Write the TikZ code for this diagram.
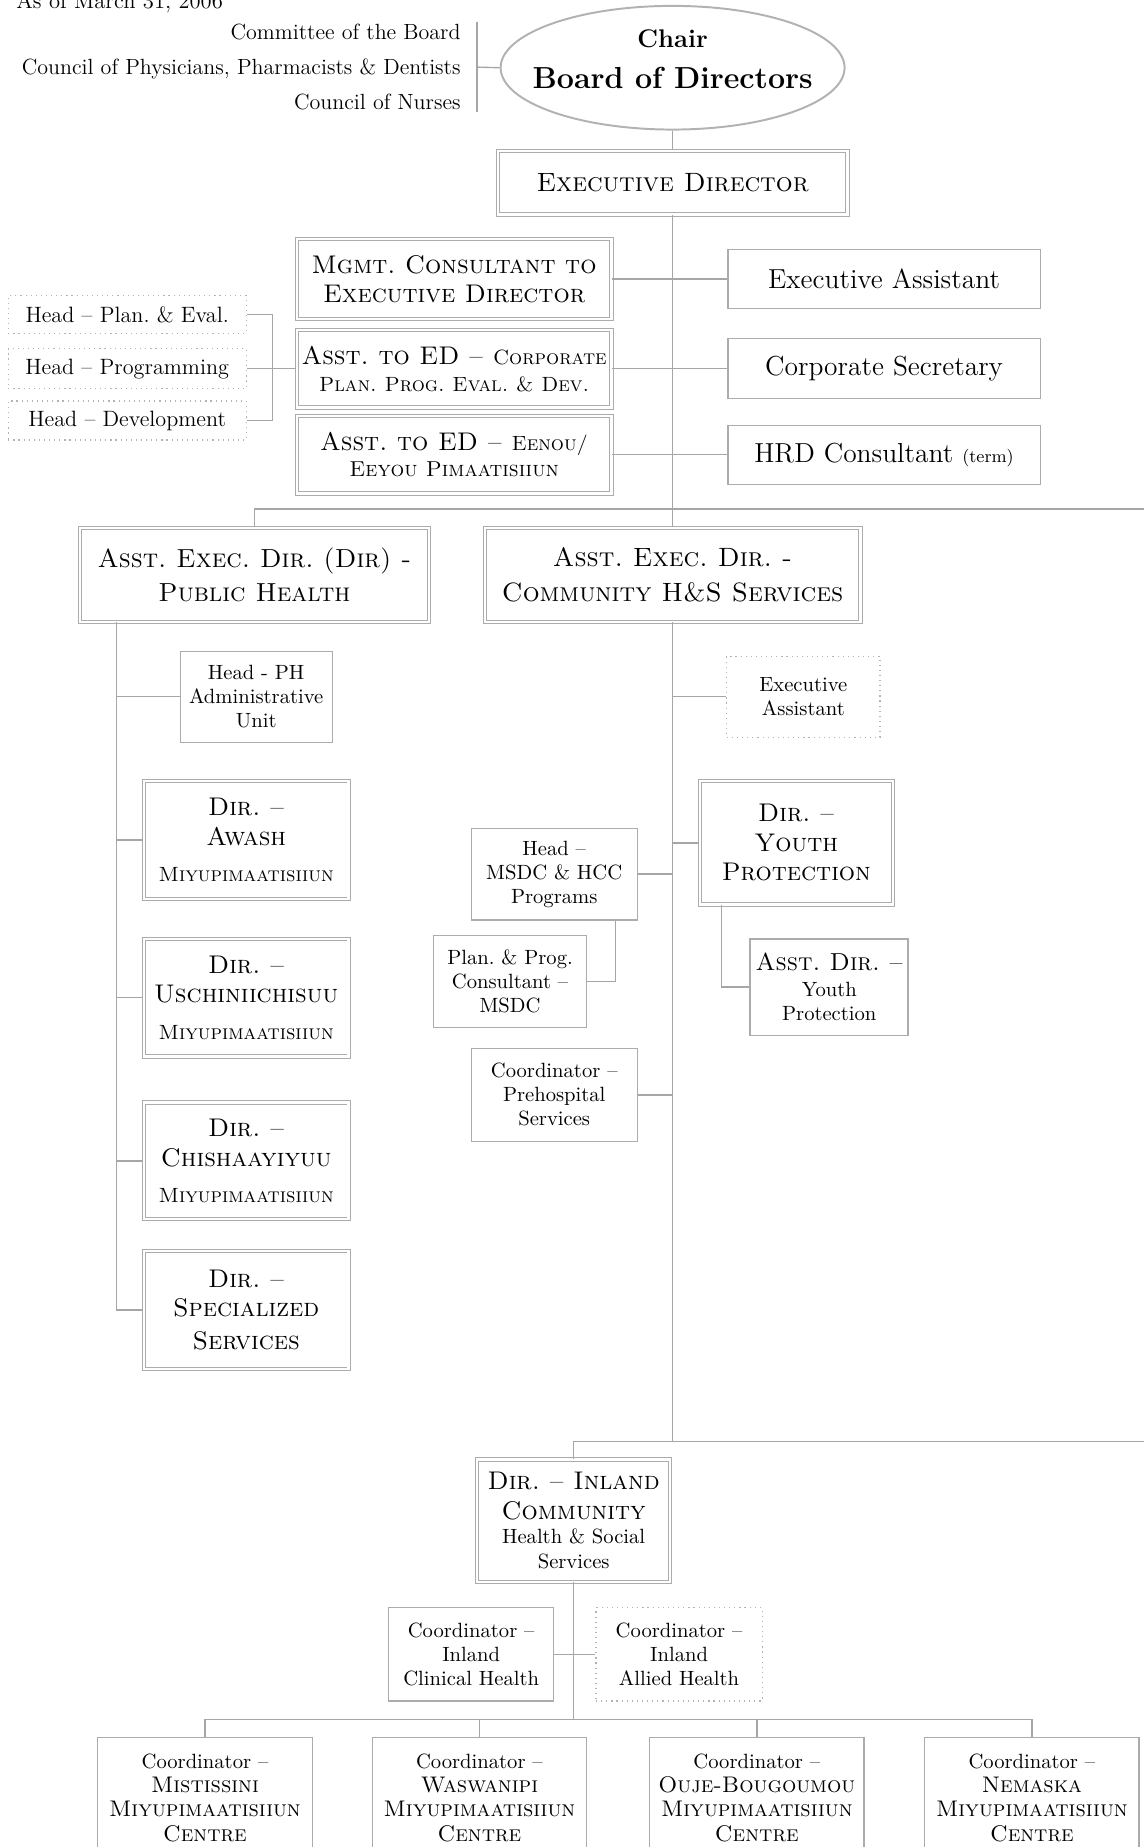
\documentclass[tikz,border=0pt]{standalone}
\usepackage{fontspec}
\usetikzlibrary{shapes.geometric, math}

\newcommand{\txt}{\fontsize{10.5}{12.2}\selectfont}
\newcommand{\scbig}{\fontsize{13}{15}\selectfont\scshape}
\newcommand{\scsmall}{\fontsize{10.5}{12}\selectfont\scshape}
\newcommand{\scmid}{\fontsize{11.5}{12}\selectfont\scshape}

\tikzset{
  link/.style={draw=gray!70, line width=0.7pt},
  box/.style={draw=gray!65, line width=0.6pt, fill=white, align=center, inner sep=0pt, font=\txt},
  dbox/.style={box, double=white, double distance=1.2pt, line width=0.5pt},
  dotbox/.style={box, draw=gray!60, dotted},
  sz/.style 2 args={minimum width=#1*0.6pt, minimum height=#2*0.6pt}
}

\begin{document}
\frenchspacing
\begin{tikzpicture}[x=0.6pt, y=-0.6pt]
\tikzmath{
\tx=571;
\sx=99;
\by=1460;
}
\useasboundingbox (0,0) rectangle (971,1568);

\node[anchor=base west, font=\fontsize{11.5}{13}\selectfont] (asof) at (8,7) {As of March 31, 2006};
\node[anchor=east, align=right, inner sep=1pt, font=\fontsize{11.2}{17.7}\selectfont] (cmte) at (393,57)
  {Committee of the Board\\Council of Physicians, Pharmacists \& Dentists\\Council of Nurses};

\node[ellipse, draw=gray!60, line width=1pt, sz={292}{105}] (chair) at (\tx,57.5) {};
\node[align=center, font=\fontsize{15.5}{21}\selectfont\bfseries] (chairtxt) at (\tx,50)
  {{\fontsize{13}{15}\selectfont Chair}\\Board of Directors};

\node[dbox, sz={297}{54}, font=\fontsize{13.5}{15}\selectfont\scshape] (ed) at (\tx,155) {Executive Director};

% staff of the executive director
\node[dbox, sz={267}{68}, font=\scbig] (mgmt) at (385.5,237) {Mgmt. Consultant to\\Executive Director};
\node[dbox, sz={267}{66}, font=\fontsize{13}{13.8}\selectfont\scshape] (corp) at (385.5,313)
  {Asst. to ED -- {\scsmall Corporate}\\{\scsmall Plan. Prog. Eval. \& Dev.}};
\node[dbox, sz={267}{66}, font=\fontsize{13}{13.5}\selectfont\scshape] (eenou) at (385.5,386)
  {Asst. to ED -- {\scsmall Eenou/}\\{\fontsize{11}{12}\selectfont Eeyou Pimaatisiiun}};
\node[box, sz={265}{50}, font=\fontsize{14}{15}\selectfont] (exa) at (750.5,237) {Executive Assistant};
\node[box, sz={265}{51}, font=\fontsize{14}{15}\selectfont] (csec) at (750.5,313) {Corporate Secretary};
\node[box, sz={265}{50}, font=\fontsize{14}{15}\selectfont] (hrd) at (750.5,386)
  {HRD Consultant {\fontsize{9}{10}\selectfont (term)}};
\node[dotbox, sz={202}{32}, font=\fontsize{11.3}{12}\selectfont] (plan) at (108,267) {Head -- Plan. \& Eval.};
\node[dotbox, sz={202}{34}, font=\fontsize{11.3}{12}\selectfont] (prog) at (108,313) {Head -- Programming};
\node[dotbox, sz={202}{33}, font=\fontsize{11.3}{12}\selectfont] (dev) at (108,357) {Head -- Development};

% assistant executive directors
\node[dbox, sz={296}{80}, font=\fontsize{13.3}{17.4}\selectfont\scshape] (ph) at (216,488)
  {Asst. Exec. Dir. (Dir) -\\Public Health};
\node[dbox, sz={319}{80}, font=\fontsize{13.5}{17.4}\selectfont\scshape] (chs) at (\tx,488)
  {Asst. Exec. Dir. -\\Community H\&S Services};

% public health
\node[box, sz={129}{77}] (adm) at (217.5,591.5) {Head - PH\\Administrative\\Unit};
\node[dbox, sz={174}{100}, font=\scbig] (awash) at (209,713)
  {Dir. --\\Awash\\[3.5pt]{\scsmall Miyupimaatisiiun}};
\node[dbox, sz={174}{100}, font=\scbig] (usch) at (209,847)
  {Dir. --\\Uschiniichisuu\\[3.5pt]{\scsmall Miyupimaatisiiun}};
\node[dbox, sz={174}{99}, font=\scbig] (chish) at (209,985.5)
  {Dir. --\\Chishaayiyuu\\[3.5pt]{\scsmall Miyupimaatisiiun}};
\node[dbox, sz={174}{100}, font=\scbig] (spec) at (209,1112)
  {Dir. --\\Specialized\\[1.5pt]Services};

% community health and social services
\node[dotbox, sz={130}{69}] (cea) at (682,591.5) {Executive\\Assistant};
\node[dbox, sz={164}{105}, font=\scbig] (yp) at (676,715.5) {Dir. --\\Youth\\Protection};
\node[box, sz={134}{82}, line width=0.9pt] (ayp) at (704,838)
  {{\fontsize{12.5}{14}\selectfont\scshape Asst. Dir. --}\\[1pt]Youth\\Protection};
\node[box, sz={141}{78}] (msdc) at (470.5,742) {Head --\\MSDC \& HCC\\Programs};
\node[box, sz={130}{78}] (ppc) at (433,833) {Plan. \& Prog.\\Consultant --\\MSDC};
\node[box, sz={141}{79}] (preh) at (470.5,929.5) {Coordinator --\\Prehospital\\Services};

% inland
\node[dbox, sz={164}{104}, font=\fontsize{10.5}{12.6}\selectfont] (inl) at (487,1291)
  {{\scbig Dir. -- Inland}\\[2.4pt]{\scbig Community}\\Health \& Social\\Services};
\node[box, sz={140}{79}] (cih) at (400,1404.5) {Coordinator --\\Inland\\Clinical Health};
\node[dotbox, sz={141}{79}] (cia) at (576.5,1404.5) {Coordinator --\\Inland\\Allied Health};
\node[box, sz={182}{102}, font=\fontsize{10.5}{12.4}\selectfont] (cm) at (174,1526)
  {Coordinator --\\{\scmid Mistissini}\\{\scmid Miyupimaatisiiun}\\{\scmid Centre}};
\node[box, sz={182}{102}, font=\fontsize{10.5}{12.4}\selectfont] (cw) at (407,1526)
  {Coordinator --\\{\scmid Waswanipi}\\{\scmid Miyupimaatisiiun}\\{\scmid Centre}};
\node[box, sz={182}{102}, font=\fontsize{10.5}{12.4}\selectfont] (co) at (642.5,1526)
  {Coordinator --\\{\scmid Ouje-Bougoumou}\\{\scmid Miyupimaatisiiun}\\{\scmid Centre}};
\node[box, sz={182}{102}, font=\fontsize{10.5}{12.4}\selectfont] (cn) at (876,1526)
  {Coordinator --\\{\scmid Nemaska}\\{\scmid Miyupimaatisiiun}\\{\scmid Centre}};

% connectors
\coordinate (cbar) at (405,57);
\draw[link] (cbar |- cmte.north) -- (cbar |- cmte.south);
\draw[link] (cbar) -- (chair.west);
\draw[link] (chair.south) -- (ed.north);
\draw[link] (ed.south) -- (chs.north);
\draw[link] (mgmt.east) -- (exa.west);
\draw[link] (corp.east) -- (csec.west);
\draw[link] (eenou.east) -- (hrd.west);
\draw[link] (prog.east) -- (corp.west);
\draw[link] (plan.east) -- ++(22,0) |- (dev.east);

\coordinate (br1) at (971,432);
\draw[link] (ph.north) |- (br1);
\coordinate (sp) at (\sx,528);
\draw[link] (sp) |- (spec.west);
\foreach \n in {adm,awash,usch,chish} \draw[link] (sp |- \n.west) -- (\n.west);

\coordinate (tr) at (\tx,1224);
\draw[link] (chs.south) -- (tr);
\foreach \n in {cea,yp} \draw[link] (tr |- \n.west) -- (\n.west);
\foreach \n in {msdc,preh} \draw[link] (\n.east) -- (tr |- \n.east);
\draw[link] (yp.south west) ++(19,0) |- (ayp.west);
\draw[link] (msdc.south east) ++(-19,0) |- (ppc.east);

\coordinate (br2) at (971,1224);
\draw[link] (inl.north) |- (br2);
\coordinate (bus) at (487,\by);
\draw[link] (inl.south) -- (bus);
\draw[link] (cih.east) -- (cia.west);
\draw[link] (cm.north) |- (bus) -| (cn.north);
\foreach \n in {cw,co} \draw[link] (\n.north) -- (\n.north |- bus);
\end{tikzpicture}
\end{document}
